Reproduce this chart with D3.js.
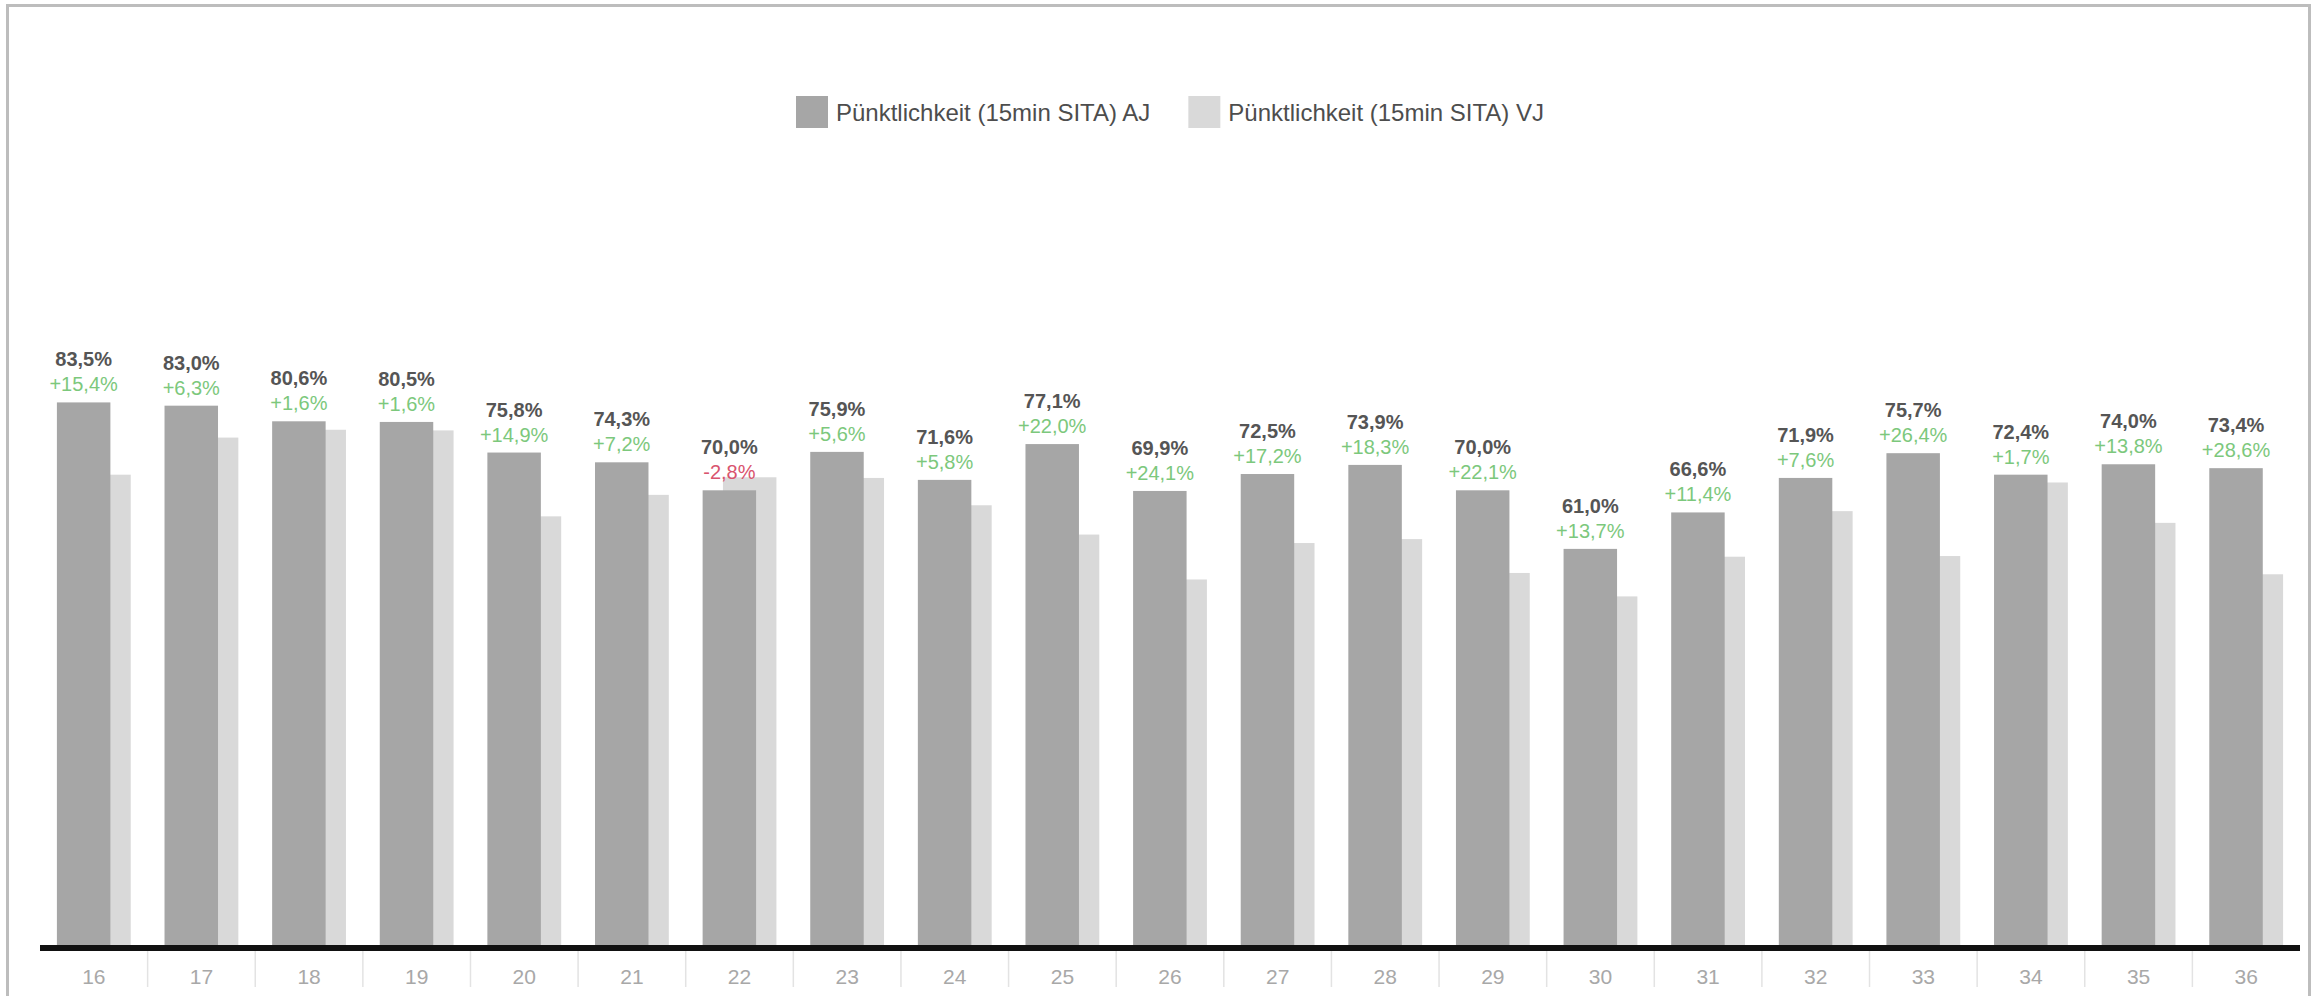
<!DOCTYPE html>
<html>
<head>
<meta charset="utf-8">
<script src="https://cdn.jsdelivr.net/npm/d3@7"></script>
<style>
  body { margin: 0; background: #fff; }
  svg { display: block; font-family: "Liberation Sans", Arial, sans-serif; }
</style>
</head>
<body>
<div id="container"></div>
<script>
let w = 2315;
let h = 996;

// data
let weeks = ["16","17","18","19","20","21","22","23","24","25","26","27","28","29","30","31","32","33","34","35","36"];
let ajValues = [83.5, 83.0, 80.6, 80.5, 75.8, 74.3, 70.0, 75.9, 71.6, 77.1, 69.9, 72.5, 73.9, 70.0, 61.0, 66.6, 71.9, 75.7, 72.4, 74.0, 73.4];
let vjValues = [72.4, 78.1, 79.3, 79.2, 66.0, 69.3, 72.0, 71.9, 67.7, 63.2, 56.3, 61.9, 62.5, 57.3, 53.7, 59.8, 66.8, 59.9, 71.2, 65.0, 57.1];
let changes = [15.4, 6.3, 1.6, 1.6, 14.9, 7.2, -2.8, 5.6, 5.8, 22.0, 24.1, 17.2, 18.3, 22.1, 13.7, 11.4, 7.6, 26.4, 1.7, 13.8, 28.6];
let seriesNames = ["Pünktlichkeit (15min SITA) AJ", "Pünktlichkeit (15min SITA) VJ"];
let seriesColors = ["#a6a6a6", "#d9d9d9"];

let rows = weeks.map(function (wk, i) {
  return { week: wk, aj: ajValues[i], vj: vjValues[i], change: changes[i] };
});

let de = d3.formatLocale({ decimal: ",", thousands: ".", grouping: [3], currency: ["", " €"], minus: "-" });
let fmtVal = de.format(".1f");
let fmtChg = de.format("+.1f");

let plotLeft = 40, plotRight = 2300, baseY = 946;

let viz = d3.select("#container").append("svg")
  .attr("width", w)
  .attr("height", h);

// frame
viz.append("rect")
  .attr("x", 7.5).attr("y", 5.5)
  .attr("width", 2302).attr("height", h)
  .attr("fill", "none")
  .attr("stroke", "#bdbdbd")
  .attr("stroke-width", 3);

let x = d3.scaleBand().domain(weeks).range([plotLeft, plotRight]).padding(0);
let y = d3.scaleLinear().domain([0, 100]).range([baseY, 295]);

let barW = x.bandwidth() * 0.497;
let shift = barW * 0.38;
let groupW = barW + shift;
function barX(d) { return x(d.week) + (x.bandwidth() - groupW) / 2; }

// previous year bars (behind)
viz.selectAll(".vj").data(rows).enter()
  .append("rect")
  .attr("class", "vj")
  .attr("x", function (d) { return barX(d) + shift; })
  .attr("y", function (d) { return y(d.vj); })
  .attr("width", barW)
  .attr("height", function (d) { return baseY - y(d.vj); })
  .attr("fill", seriesColors[1]);

// current year bars
viz.selectAll(".aj").data(rows).enter()
  .append("rect")
  .attr("class", "aj")
  .attr("x", barX)
  .attr("y", function (d) { return y(d.aj); })
  .attr("width", barW)
  .attr("height", function (d) { return baseY - y(d.aj); })
  .attr("fill", seriesColors[0]);

// value labels
viz.selectAll(".val").data(rows).enter()
  .append("text")
  .attr("class", "val")
  .attr("x", function (d) { return barX(d) + barW / 2; })
  .attr("y", function (d) { return y(d.aj) - 36; })
  .attr("text-anchor", "middle")
  .attr("font-size", 20)
  .attr("font-weight", "bold")
  .attr("fill", "#555")
  .text(function (d) { return fmtVal(d.aj) + "%"; });

viz.selectAll(".chg").data(rows).enter()
  .append("text")
  .attr("class", "chg")
  .attr("x", function (d) { return barX(d) + barW / 2; })
  .attr("y", function (d) { return y(d.aj) - 11; })
  .attr("text-anchor", "middle")
  .attr("font-size", 20)
  .attr("fill", function (d) { return d.change < 0 ? "#d9546e" : "#7cc87c"; })
  .text(function (d) { return fmtChg(d.change) + "%"; });

// x axis
let xAxis = d3.axisBottom(x).tickSize(0).tickPadding(0);
let axisG = viz.append("g")
  .attr("transform", "translate(0," + baseY + ")")
  .call(xAxis);
axisG.select(".domain").remove();
axisG.selectAll("text")
  .attr("dy", null)
  .attr("y", 38)
  .attr("font-size", 21)
  .attr("font-family", "Liberation Sans, Arial, sans-serif")
  .attr("fill", "#a8a8a8");

// separators between weeks
viz.selectAll(".sep").data(weeks.slice(1)).enter()
  .append("line")
  .attr("class", "sep")
  .attr("x1", function (d) { return x(d); })
  .attr("x2", function (d) { return x(d); })
  .attr("y1", 951).attr("y2", 987)
  .attr("stroke", "#e3e3e3")
  .attr("stroke-width", 1.5);

viz.append("line")
  .attr("x1", plotLeft).attr("x2", plotRight)
  .attr("y1", 948).attr("y2", 948)
  .attr("stroke", "#111")
  .attr("stroke-width", 6);

// legend
let legend = viz.append("g");
let items = legend.selectAll(".item").data(seriesNames).enter()
  .append("g").attr("class", "item");
items.append("rect")
  .attr("width", 32).attr("height", 32)
  .attr("y", 96)
  .attr("fill", function (d, i) { return seriesColors[i]; });
items.append("text")
  .attr("x", 40).attr("y", 121)
  .attr("font-size", 24)
  .attr("fill", "#4d4d4d")
  .text(function (d) { return d; });

let pos = 0;
let widths = [];
items.each(function () {
  widths.push(40 + d3.select(this).select("text").node().getComputedTextLength());
});
let total = d3.sum(widths) + 38 * (widths.length - 1);
let start = (plotLeft + plotRight) / 2 - total / 2;
items.attr("transform", function (d, i) {
  let t = "translate(" + (start + pos) + ",0)";
  pos += widths[i] + 38;
  return t;
});
</script>
</body>
</html>
